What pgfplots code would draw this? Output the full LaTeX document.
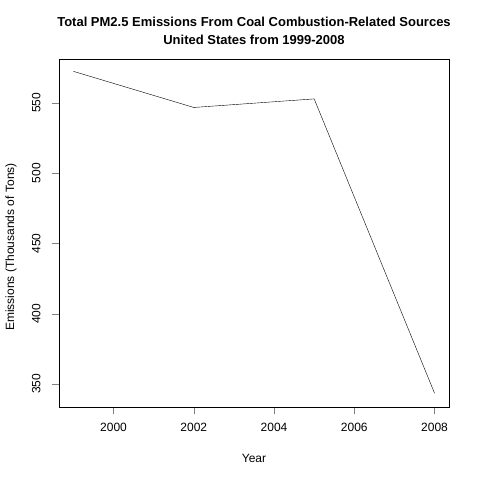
\documentclass[border=0pt]{standalone}
\usepackage{pgfplots}
\pgfplotsset{compat=1.18}
\usepackage{fontspec}
\setmainfont{Liberation Sans}
\begin{document}
\begin{tikzpicture}[x=1pt,y=1pt]
\path[fill=white] (0,0) rectangle (480,480);
\begin{axis}[at={(59pt,73pt)},anchor=south west,scale only axis,
 width=390pt,height=348pt,
 xmin=1998.64,xmax=2008.36,ymin=333.6,ymax=581.3,
 xtick={2000,2002,2004,2006,2008},ytick={350,400,450,500,550},
 tick align=outside,major tick length=7pt,
 xtick pos=bottom,ytick pos=left,
 /pgf/number format/assume math mode=true,
 /pgf/number format/1000 sep={},
 tick label style={font=\fontsize{12}{14}\selectfont},
 yticklabel style={rotate=90,anchor=south,yshift=8pt},
 xticklabel style={yshift=-6pt},
 axis line style={black},
 clip=false]
\addplot[black,thin,mark=none] coordinates {(1999,572.5) (2002,546.8) (2005,552.9) (2008,343.4)};
\end{axis}
\node[font=\fontsize{13}{15}\bfseries\selectfont] at (254,458) {Total PM2.5 Emissions From Coal Combustion-Related Sources};
\node[font=\fontsize{13}{15}\bfseries\selectfont] at (254,440) {United States from 1999-2008};
\node[font=\fontsize{12}{14}\selectfont] at (254,22) {Year};
\node[font=\fontsize{12}{14}\selectfont,rotate=90] at (11,233) {Emissions (Thousands of Tons)};
\end{tikzpicture}
\end{document}
